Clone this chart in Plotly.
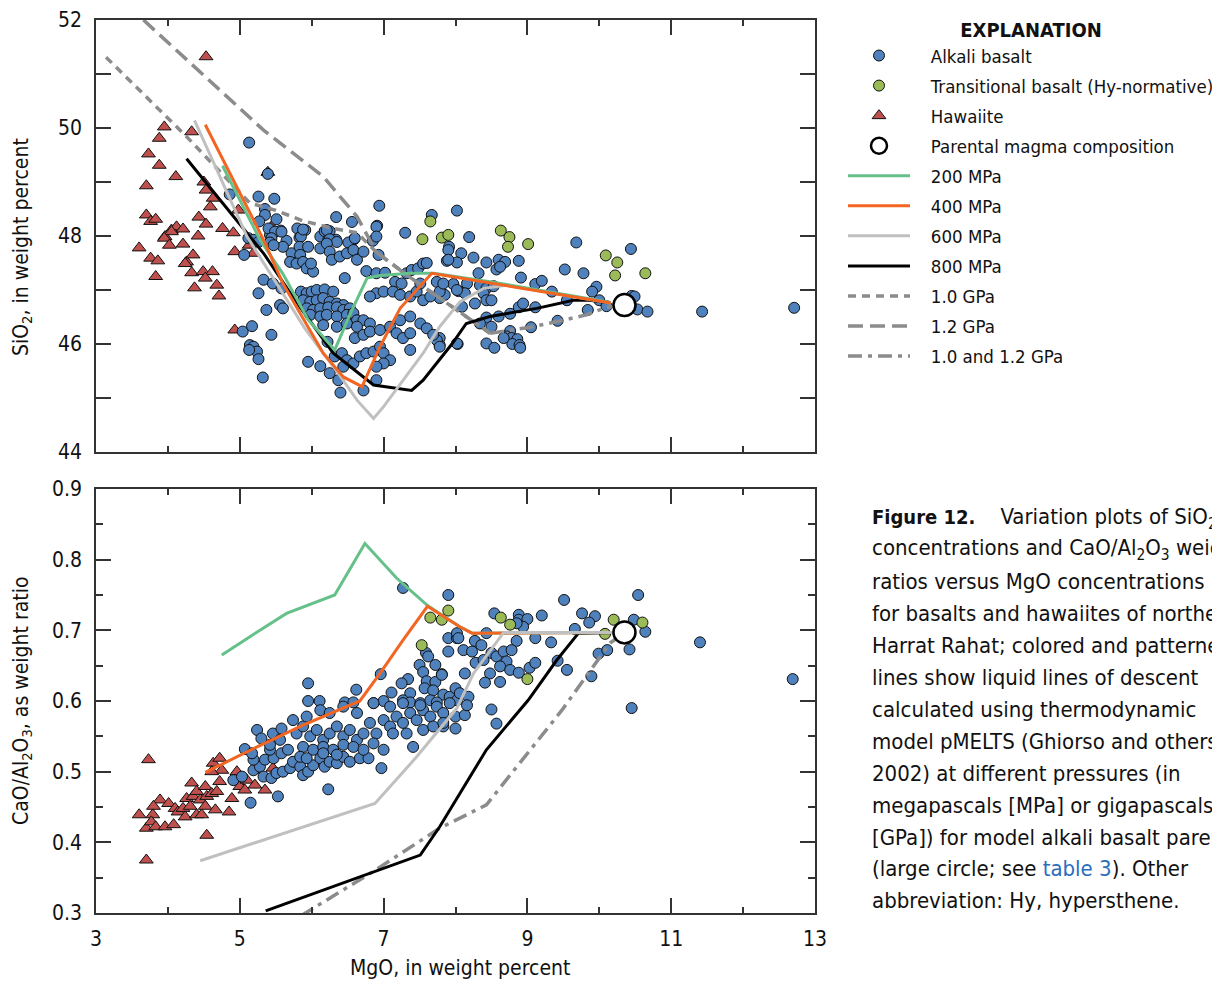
import plotly.graph_objects as go

FONT = "Liberation Sans Narrow, DejaVu Sans Condensed, Roboto, sans-serif"

# ---------------- data: top panel (MgO, SiO2) ----------------
alk_top = [
    (5.13,49.73),(5.26,48.73),(5.48,48.69),(4.86,48.77),(5.35,48.50),(5.35,48.39),(5.51,48.31),(5.27,48.27),
    (5.57,48.10),(5.42,48.02),(5.80,48.14),(5.91,48.11),(5.83,47.97),(6.12,47.99),(6.18,48.09),(6.25,48.09),
    (6.34,48.35),(6.56,48.26),(6.91,48.19),(6.94,48.56),(7.30,48.06),(7.67,48.39),(8.02,48.47),(5.65,47.91),
    (6.23,47.93),(6.34,47.93),(6.59,47.94),(6.85,47.91),(5.39,49.15),
    (8.19,47.98),(9.68,47.88),(10.44,47.76),(7.91,47.80),(7.90,47.74),(8.08,47.68),(8.25,47.60),(7.88,47.54),
    (8.02,47.51),(8.43,47.51),(8.60,47.56),(8.69,47.52),(8.57,47.38),(8.62,47.43),(8.88,47.54),(9.52,47.38),
    (9.78,47.31),(8.32,47.31),(8.91,47.23),(7.97,47.11),(8.16,47.12),(8.04,46.98),(8.13,46.94),(8.34,47.09),
    (8.43,47.03),(8.39,46.94),(8.53,47.07),(9.11,47.11),(9.20,47.17),(9.34,46.97),(9.96,47.06),(9.90,46.97),
    (10.00,46.81),(10.45,46.89),(10.49,46.88),(10.53,46.64),(10.67,46.60),(11.43,46.60),(12.71,46.67),(7.78,46.85),
    (7.85,46.91),(8.27,46.75),(8.43,46.81),(8.50,46.81),(8.09,46.69),(8.88,46.68),(8.94,46.75),(9.11,46.68),
    (9.55,46.81),(9.84,46.63),(10.10,46.70),(8.43,46.49),(8.60,46.51),(8.76,46.56),(8.34,46.38),(8.50,46.32),
    (9.05,46.31),(9.42,46.43),(8.76,46.24),(8.71,46.14),(8.78,46.11),(8.86,46.09),(8.79,46.00),(8.89,45.98),
    (8.90,45.93),(8.67,46.11),(8.43,46.01),(8.54,45.93),(7.78,46.11),(7.78,45.98),(8.03,46.00),
    (5.40,48.14),(5.49,48.08),(5.12,47.96),(5.19,47.93),(5.44,47.96),(5.58,48.08),(5.85,47.99),(5.88,48.12),
    (6.21,48.11),(6.25,47.94),(6.35,47.89),(6.51,47.88),(6.60,47.96),(6.90,48.17),(6.90,47.99),(5.26,47.89),
    (5.42,47.88),(5.60,47.80),(5.47,47.83),(5.72,47.68),(5.83,47.80),(5.84,47.65),(5.70,47.52),(5.79,47.49),
    (5.88,47.52),(5.95,47.80),(6.12,47.77),(6.21,47.86),(6.25,47.71),(5.93,47.40),(6.02,47.34),(5.99,47.49),
    (6.28,47.56),(6.39,47.62),(6.49,47.68),(6.58,47.74),(6.63,47.56),(6.72,47.71),(6.93,47.65),(6.46,47.22),
    (6.76,47.35),(6.90,47.31),(7.02,47.32),(7.16,47.15),(7.25,47.12),(7.32,47.31),(7.39,47.37),(7.48,47.40),
    (7.55,47.49),(7.60,47.50),(7.74,47.15),(7.90,47.56),(5.26,46.94),(5.33,47.19),(5.46,47.12),(5.37,46.63),
    (5.56,46.72),(5.60,46.66),(5.58,47.03),(5.85,46.97),(5.93,46.94),(6.00,46.97),(6.07,47.00),(6.18,47.01),
    (6.30,46.97),(5.88,46.81),(5.98,46.78),(6.07,46.81),(6.16,46.85),(6.25,46.78),(6.35,46.75),(6.44,46.72),
    (5.93,46.66),(6.02,46.63),(6.12,46.66),(6.23,46.68),(6.35,46.68),(6.44,46.63),(6.53,46.66),(5.98,46.54),
    (6.12,46.51),(6.21,46.54),(6.35,46.51),(6.49,46.54),(6.58,46.57),(6.63,46.44),(6.72,46.44),(6.16,46.35),
    (6.35,46.32),(6.49,46.38),(6.63,46.32),(6.81,46.38),(6.90,46.94),(7.00,46.97),(6.81,46.88),(7.13,46.97),
    (7.23,46.91),(7.37,46.88),(7.46,46.97),(7.51,47.12),(7.55,46.81),(7.65,46.88),(7.78,46.97),(8.02,47.00),
    (7.83,47.12),(5.04,46.23),(5.17,46.33),(5.44,46.17),(5.14,45.98),(5.19,45.95),(5.24,45.86),(5.13,45.89),
    (5.26,45.72),(5.32,45.38),(5.95,45.67),(6.12,45.59),(6.22,46.04),(6.32,45.77),(6.42,45.83),(6.49,45.70),
    (6.44,45.58),(6.58,45.64),(6.67,45.77),(6.76,45.83),(6.86,45.86),(6.95,45.95),(7.00,45.83),(7.09,45.70),
    (7.00,45.64),(6.90,45.58),(6.25,45.46),(6.37,45.33),(6.40,45.10),(6.72,45.14),(6.90,45.33),(6.60,46.11),
    (6.72,46.17),(6.81,46.23),(6.95,46.26),(7.09,46.32),(7.18,46.20),(7.27,46.11),(7.37,46.20),(7.23,46.44),
    (7.37,46.51),(7.51,46.38),(7.60,46.29),(7.74,46.07),(7.78,45.95),(7.37,45.89),(7.69,46.17),(8.02,46.01),
    (5.06,47.65),
]
trans_top = [
    (7.65,48.27),(7.54,47.94),(7.81,47.97),(7.90,48.02),(8.63,48.10),(8.75,47.98),(8.73,47.80),(9.01,47.85),
    (10.09,47.64),(10.25,47.51),(10.22,47.27),(10.64,47.31),
]
haw_top = [
    (4.53,51.32),(3.95,50.02),(3.88,49.81),(4.33,49.93),(3.73,49.52),(3.88,49.31),(4.11,49.10),(3.70,48.93),
    (4.50,49.00),(4.53,48.85),(4.63,48.70),(4.59,48.54),(3.70,48.39),(3.76,48.27),(3.83,48.31),(4.05,48.11),
    (4.12,48.17),(4.21,48.13),(4.43,48.35),(4.53,48.22),(4.76,48.14),(4.91,48.06),(4.98,48.48),(5.39,49.18),
    (5.44,48.17),(3.96,47.99),(4.42,48.00),(4.05,48.08),(3.95,47.96),(4.02,47.83),(4.21,47.85),(3.60,47.78),
    (3.76,47.59),(3.86,47.54),(4.26,47.52),(4.35,47.65),(4.24,47.49),(4.33,47.32),(4.49,47.34),(4.62,47.34),
    (4.52,47.22),(3.83,47.25),(4.37,47.04),(4.68,47.09),(4.71,46.89),(4.93,47.71),(5.13,47.83),(5.19,47.68),
    (4.93,46.26),
]
parent_top = [(10.35,46.72)]

lld200_top = [(10.16,46.77),(8.50,47.15),(7.70,47.31),(7.37,47.31),(6.95,47.27),(6.77,47.22),(6.55,46.60),
              (6.32,45.89),(5.95,46.45),(5.60,47.30),(5.28,47.93),(4.76,49.30)]
lld400_top = [(10.16,46.76),(8.06,47.22),(7.67,47.31),(7.23,46.66),(6.95,45.95),(6.70,45.21),(6.44,45.39),
              (6.16,45.83),(5.60,47.12),(5.33,47.93),(4.52,50.06)]
lld600_top = [(10.16,46.76),(8.71,47.09),(8.39,47.03),(8.06,46.78),(7.78,46.32),(7.55,45.83),(7.00,44.84),
              (6.86,44.62),(6.63,44.96),(6.40,45.40),(5.90,46.30),(5.10,47.99),(4.37,50.14)]
lld800_top = [(10.10,46.77),(9.87,46.81),(9.64,46.81),(9.13,46.66),(8.48,46.51),(8.15,46.38),(7.95,46.00),
              (7.55,45.33),(7.39,45.14),(6.86,45.24),(6.30,45.83),(5.80,46.75),(5.33,47.68),(4.26,49.43)]
gpa10_top = [(3.14,51.31),(4.26,49.84),(5.14,48.61),(5.49,48.48),(5.88,48.28),(6.30,48.14),(6.63,48.06),
             (6.90,47.70),(7.30,47.30),(7.78,46.85),(8.48,46.20)]
gpa12_top = [(3.66,52.00),(5.33,49.96),(6.16,49.10),(6.63,48.36),(6.90,47.70),(7.30,47.30),(7.78,46.85),
             (8.48,46.20)]
gpa1012_top = [(8.48,46.20),(9.04,46.31),(9.43,46.42),(9.82,46.54),(10.10,46.68),(10.30,46.72)]

# ---------------- data: bottom panel (MgO, CaO/Al2O3) ----------------
alk_bot = [
    (7.27,0.760),(7.90,0.750),(7.90,0.689),(8.02,0.689),(7.90,0.670),(7.59,0.668),(7.62,0.663),(7.50,0.651),
    (7.72,0.651),(7.55,0.641),(7.81,0.638),(7.60,0.628),(7.72,0.627),(7.34,0.631),(7.25,0.625),(6.96,0.638),
    (7.11,0.612),(7.37,0.611),(7.57,0.618),(7.69,0.615),(7.83,0.609),(7.92,0.606),(8.02,0.601),(7.27,0.601),
    (7.37,0.598),(7.51,0.597),(7.65,0.601),(7.74,0.598),(5.95,0.625),(5.95,0.600),(6.11,0.600),(6.62,0.616),
    (6.46,0.598),(6.58,0.598),(6.86,0.597),(7.00,0.600),
    (9.51,0.743),(10.54,0.750),(8.54,0.724),(8.88,0.722),(8.88,0.715),(9.00,0.716),(8.94,0.705),(8.85,0.710),
    (9.20,0.721),(9.76,0.724),(9.94,0.720),(9.86,0.711),(10.48,0.715),(10.64,0.698),(9.66,0.702),(10.42,0.673),
    (11.40,0.683),(12.69,0.631),(10.45,0.590),(9.89,0.635),(9.55,0.644),(9.42,0.657),(9.99,0.667),(10.11,0.672),
    (9.33,0.683),(9.11,0.689),(8.85,0.685),(8.43,0.696),(8.27,0.685),(8.36,0.679),(8.28,0.654),(8.39,0.658),
    (8.50,0.668),(8.57,0.663),(8.67,0.670),(8.78,0.672),(8.71,0.656),(8.62,0.649),(8.76,0.644),(8.88,0.640),
    (9.03,0.647),(9.11,0.654),(8.48,0.639),(8.41,0.626),(8.62,0.627),(8.02,0.696),(8.04,0.689),(8.11,0.672),
    (8.23,0.670),(8.13,0.639),(7.81,0.637),(8.00,0.618),(8.06,0.611),(8.18,0.606),(8.50,0.588),
    (8.57,0.568),(8.00,0.578),(8.13,0.580),(8.00,0.561),(8.16,0.594),(7.83,0.564),
    (5.24,0.559),(5.07,0.532),(5.15,0.456),(5.53,0.465),(6.23,0.475),(4.91,0.488),(5.03,0.493),(5.19,0.502),
    (5.28,0.507),(5.33,0.493),(5.44,0.491),(5.51,0.498),(5.60,0.500),(5.70,0.505),(5.35,0.517),(5.47,0.519),
    (5.58,0.526),(5.67,0.531),(5.74,0.514),(5.84,0.507),(5.88,0.495),(5.95,0.500),(6.02,0.509),(6.12,0.519),
    (6.18,0.507),(6.25,0.514),(6.35,0.512),(6.44,0.521),(6.53,0.514),(6.67,0.519),(6.79,0.519),(6.97,0.505),
    (5.19,0.517),(5.17,0.526),(5.42,0.531),(5.46,0.554),(5.58,0.561),(5.30,0.547),(5.42,0.538),(5.56,0.545),
    (5.79,0.554),(5.88,0.564),(5.98,0.550),(6.07,0.559),(6.16,0.545),(6.25,0.554),(6.35,0.564),(6.44,0.550),
    (6.53,0.559),(6.63,0.545),(6.72,0.554),(6.81,0.569),(6.90,0.554),(7.00,0.573),(7.09,0.564),(7.18,0.578),
    (7.27,0.569),(7.37,0.583),(7.46,0.573),(7.55,0.587),(7.65,0.578),(7.74,0.592),(7.83,0.583),(7.92,0.597),
    (5.88,0.535),(6.02,0.531),(6.16,0.535),(6.30,0.531),(6.44,0.538),(6.58,0.535),(6.72,0.531),(6.86,0.540),
    (7.00,0.531),(7.13,0.554),(7.32,0.554),(7.41,0.535),(7.55,0.559),(7.69,0.564),(7.83,0.569),(5.93,0.578),
    (6.12,0.587),(6.25,0.583),(6.44,0.592),(6.63,0.583),(6.86,0.597),(7.09,0.592),(7.27,0.597),(7.51,0.594),
    (5.74,0.573),(5.84,0.521),(5.93,0.519),(6.16,0.526),(6.35,0.524),
]
trans_bot = [
    (7.65,0.718),(7.81,0.715),(7.90,0.728),(7.53,0.679),(8.63,0.718),(8.76,0.708),(9.00,0.631),(10.20,0.715),
    (10.60,0.711),(10.08,0.695),
]
haw_bot = [
    (3.73,0.517),(3.60,0.439),(3.70,0.375),(3.70,0.420),(3.79,0.439),(3.77,0.429),(3.83,0.422),(3.89,0.460),
    (3.96,0.422),(4.01,0.455),(4.08,0.425),(3.80,0.451),(4.10,0.448),(4.14,0.443),(4.21,0.448),(4.26,0.462),
    (4.24,0.436),(4.31,0.451),(4.33,0.484),(4.35,0.465),(4.40,0.472),(4.45,0.460),(4.40,0.439),(4.47,0.439),
    (4.52,0.451),(4.54,0.465),(4.52,0.479),(4.61,0.469),(4.68,0.472),(4.72,0.486),(4.66,0.446),(4.54,0.410),
    (4.85,0.443),(4.89,0.462),(4.96,0.500),(4.96,0.486),(5.00,0.479),(5.10,0.488),(5.07,0.474),(5.21,0.481),
    (5.35,0.474),(5.24,0.502),(5.46,0.505),(4.63,0.512),(4.72,0.519),(4.75,0.502),(4.61,0.500),
]
parent_bot = [(10.35,0.697)]

lld200_bot = [(10.24,0.697),(8.23,0.696),(8.06,0.705),(7.60,0.736),(7.18,0.774),(6.74,0.823),(6.32,0.750),
              (5.65,0.724),(5.14,0.691),(4.75,0.665)]
lld400_bot = [(10.24,0.697),(8.67,0.697),(8.23,0.696),(8.06,0.705),(7.61,0.734),(7.27,0.686),(6.95,0.639),
              (6.67,0.600),(5.88,0.566),(5.24,0.535),(4.52,0.499)]
lld600_bot = [(10.24,0.697),(8.67,0.697),(8.25,0.639),(8.02,0.590),(7.46,0.521),(6.88,0.455),(4.45,0.374)]
lld800_bot = [(10.24,0.697),(9.71,0.696),(9.41,0.658),(9.01,0.601),(8.43,0.531),(7.78,0.422),(7.51,0.382),
              (5.36,0.303)]
gpa1012_bot = [(5.85,0.296),(6.86,0.359),(7.78,0.420),(8.43,0.453),(9.48,0.587),(10.15,0.682),(10.30,0.693)]

# ---------------- figure ----------------
BLUE, GREEN, RED = "#4f81bd", "#9bbb59", "#c0504d"
C200, C400, C600, C800, CGPA = "#66c08a", "#f26522", "#c0c0c0", "#000000", "#8c8c8c"
PAD = "\u00a0\u00a0\u00a0"  # small indent between legend symbol and label

fig = go.Figure()

def xs(p): return [a for a, b in p]
def ys(p): return [b for a, b in p]

def pts(data, name, color, symbol, size, row, rank):
    ax = "" if row == 1 else "2"
    fig.add_trace(go.Scatter(
        x=xs(data), y=ys(data), mode="markers", name=PAD + name, legendgroup=name,
        showlegend=(row == 1), legendrank=rank,
        marker=dict(color=color, symbol=symbol, size=size, line=dict(color="#111111", width=1)),
        xaxis="x" + ax, yaxis="y" + ax))

def lin(data, name, color, dash, width, row, rank):
    ax = "" if row == 1 else "2"
    fig.add_trace(go.Scatter(
        x=xs(data), y=ys(data), mode="lines", name=PAD + name, legendgroup=name,
        showlegend=(row == 1), legendrank=rank,
        line=dict(color=color, dash=dash, width=width),
        xaxis="x" + ax, yaxis="y" + ax))

for row, (alk, tr, hw) in enumerate([(alk_top, trans_top, haw_top), (alk_bot, trans_bot, haw_bot)], start=1):
    pts(hw, "Hawaiite", RED, "triangle-up", 12, row, 3)
    pts(alk, "Alkali basalt", BLUE, "circle", 11, row, 1)
    pts(tr, "Transitional basalt (Hy-normative)", GREEN, "circle", 11, row, 2)

# lines top
lin(gpa12_top, "1.2 GPa", CGPA, "15px,7px", 3.5, 1, 10)
lin(gpa10_top, "1.0 GPa", CGPA, "8px,6px", 3.5, 1, 9)
lin(gpa1012_top, "1.0 and 1.2 GPa", CGPA, "14px,6px,4px,6px", 3.5, 1, 11)
lin(lld800_top, "800 MPa", C800, "solid", 3, 1, 8)
lin(lld600_top, "600 MPa", C600, "solid", 3, 1, 7)
lin(lld200_top, "200 MPa", C200, "solid", 3, 1, 5)
lin(lld400_top, "400 MPa", C400, "solid", 3, 1, 6)
# lines bottom
lin(gpa1012_bot, "1.0 and 1.2 GPa", CGPA, "14px,6px,4px,6px", 3.5, 2, 11)
lin(lld800_bot, "800 MPa", C800, "solid", 3, 2, 8)
lin(lld200_bot, "200 MPa", C200, "solid", 3, 2, 5)
lin(lld400_bot, "400 MPa", C400, "solid", 3, 2, 6)
lin(lld600_bot, "600 MPa", C600, "solid", 3, 2, 7)

for row, par in [(1, parent_top), (2, parent_bot)]:
    ax = "" if row == 1 else "2"
    fig.add_trace(go.Scatter(
        x=xs(par), y=ys(par), mode="markers", name=PAD + "Parental magma composition",
        legendgroup="parent", showlegend=(row == 1), legendrank=4,
        marker=dict(color="white", size=22, line=dict(color="black", width=2.5)),
        xaxis="x" + ax, yaxis="y" + ax))

XD = [96 / 1212, 815 / 1212]
axis_common = dict(showline=True, mirror="ticks", linecolor="#333333", linewidth=1.5,
                   ticks="inside", ticklen=15, tickwidth=1.5, tickcolor="#333333",
                   showgrid=False, zeroline=False,
                   tickfont=dict(family=FONT, size=21, color="#111111"))

fig.update_layout(
    width=1212, height=981, margin=dict(l=0, r=0, t=0, b=0, autoexpand=False),
    paper_bgcolor="white", plot_bgcolor="white",
    font=dict(family=FONT, size=21, color="#111111"),
    xaxis=dict(domain=XD, range=[3, 13], tick0=3, dtick=2, showticklabels=False, anchor="y",
               minor=dict(dtick=1, ticklen=6, tickwidth=1.5, tickcolor="#333333", ticks="inside"),
               **axis_common),
    yaxis=dict(domain=[1 - 452 / 981, 1 - 20 / 981], range=[44, 52], tick0=44, dtick=2, anchor="x",
               ticklabelstandoff=8,
               minor=dict(dtick=1, ticklen=15, tickwidth=1.5, tickcolor="#333333", ticks="inside"),
               **axis_common),
    xaxis2=dict(domain=XD, range=[3, 13], tick0=3, dtick=2, anchor="y2", ticklabelstandoff=6,
                minor=dict(dtick=1, ticklen=6, tickwidth=1.5, tickcolor="#333333", ticks="inside"),
                **axis_common),
    yaxis2=dict(domain=[1 - 913 / 981, 1 - 489 / 981], range=[0.3, 0.9], tick0=0.3, dtick=0.1,
                tickformat=".1f", anchor="x2", ticklabelstandoff=8,
                minor=dict(dtick=0.05, ticklen=7, tickwidth=1.5, tickcolor="#333333", ticks="inside"),
                **axis_common),
    legend=dict(x=843 / 1212, y=1 - 11 / 981, xanchor="left", yanchor="top",
                itemwidth=62, tracegroupgap=3, bgcolor="rgba(0,0,0,0)",
                font=dict(family=FONT, size=18.5, color="#111111"),
                title=dict(text="<b>EXPLANATION</b>", side="top center",
                           font=dict(family=FONT, size=20, color="#111111"))),
    showlegend=True,
)

annots = [
    dict(text="SiO<sub>2</sub>, in weight percent", x=22 / 1212, y=1 - 247 / 981, textangle=-90),
    dict(text="CaO/Al<sub>2</sub>O<sub>3</sub>, as weight ratio", x=22 / 1212, y=1 - 701 / 981, textangle=-90),
    dict(text="MgO, in weight percent", x=460 / 1212, y=1 - 968 / 981),
]
for a in annots:
    fig.add_annotation(xref="paper", yref="paper", showarrow=False, xanchor="center", yanchor="middle",
                       font=dict(family=FONT, size=21, color="#111111"), **a)

caption = [
    "<span style='font-size:20px'><b>Figure 12.</b></span>    Variation plots of SiO<sub>2</sub>",
    "concentrations and CaO/Al<sub>2</sub>O<sub>3</sub> weight",
    "ratios versus MgO concentrations",
    "for basalts and hawaiites of northern",
    "Harrat Rahat; colored and patterned",
    "lines show liquid lines of descent",
    "calculated using thermodynamic",
    "model pMELTS (Ghiorso and others,",
    "2002) at different pressures (in",
    "megapascals [MPa] or gigapascals",
    "[GPa]) for model alkali basalt parent",
    "(large circle; see <span style='color:#2a6ebb'>table 3</span>). Other",
    "abbreviation: Hy, hypersthene.",
]
for i, line in enumerate(caption):
    fig.add_annotation(xref="paper", yref="paper", showarrow=False, xanchor="left", yanchor="middle",
                       x=870 / 1212, y=1 - (518 + i * 31.9) / 981, text=line, align="left",
                       font=dict(family=FONT, size=22, color="#111111"))

fig.write_html("out.html")
